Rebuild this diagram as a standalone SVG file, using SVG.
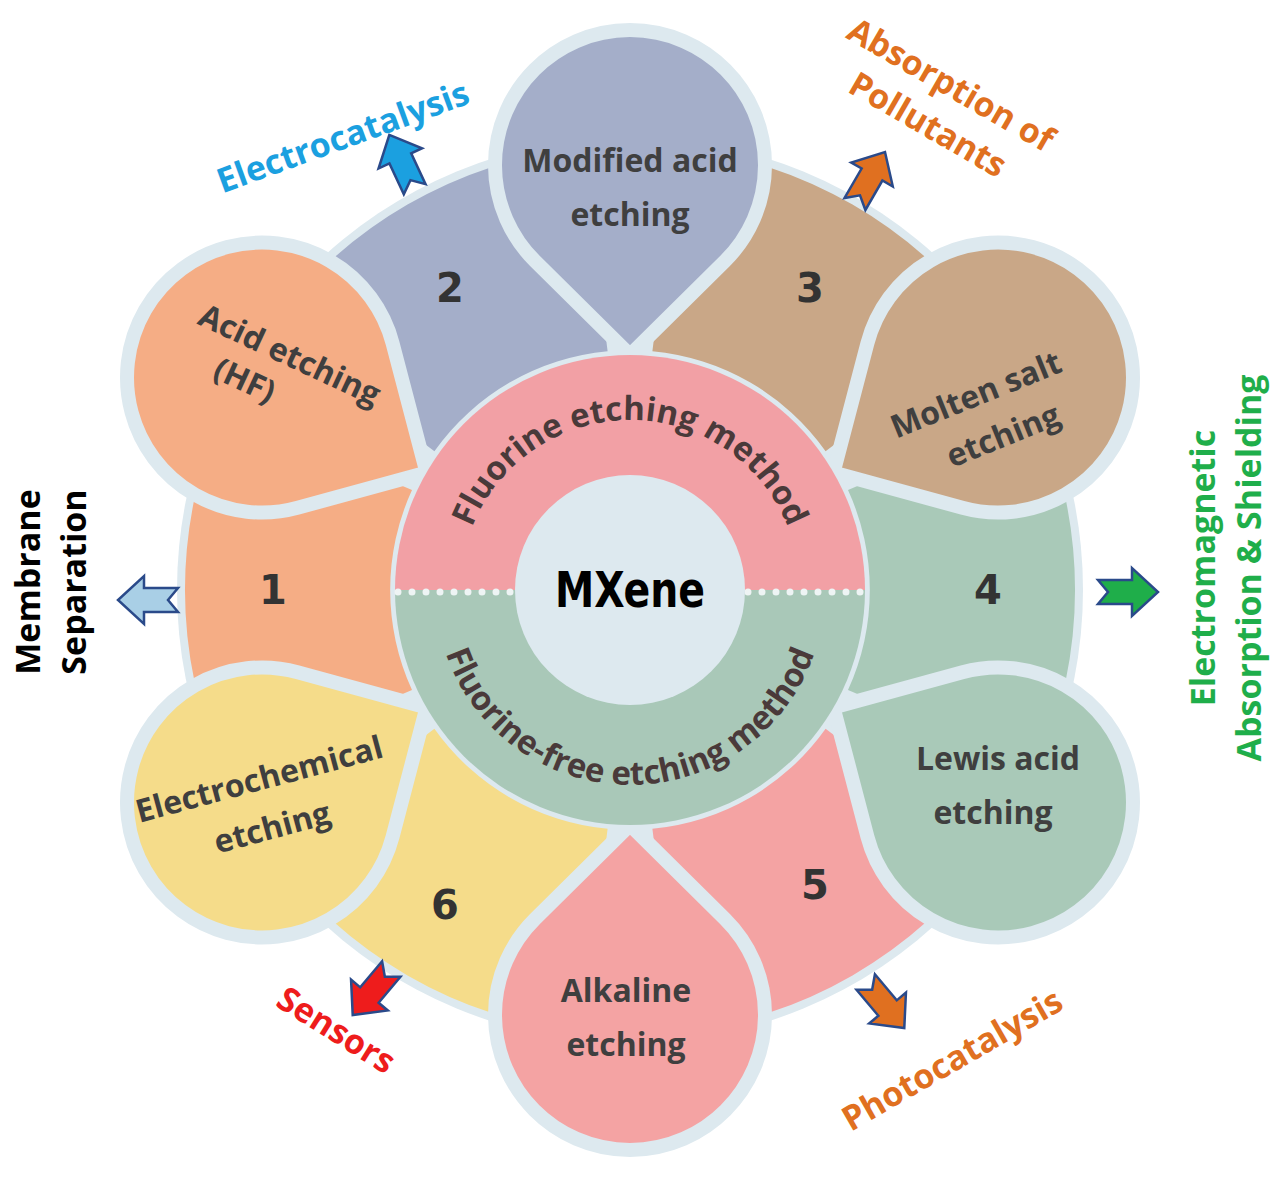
<svg xmlns="http://www.w3.org/2000/svg" xmlns:xlink="http://www.w3.org/1999/xlink" width="1280" height="1183" viewBox="0 0 1280 1183">
<style>
.pet{stroke:#dde9ef;stroke-width:14;stroke-linejoin:round}
.lab{font-family:"Open Sans","DejaVu Sans",sans-serif;font-weight:bold;font-size:32px;fill:#3f3f3f;text-anchor:middle}
.num{font-family:"DejaVu Sans",sans-serif;font-weight:bold;font-size:40px;fill:#333;text-anchor:middle}
.app{font-family:"Open Sans","DejaVu Sans",sans-serif;font-weight:bold;font-size:34px;text-anchor:middle}
.ring{font-family:"Open Sans","DejaVu Sans",sans-serif;font-weight:bold;font-size:33px;fill:#4a3a3a}
</style>
<defs>
<path id="petal" d="M0,-235 L95,-329 A135,135 0 1 0 -95,-329 Z"/>
<path id="seg" d="M-180,-407 A445,445 0 0 1 180,-407 L100,-218 A240,240 0 0 0 -100,-218 Z"/>
<path id="arr" d="M-30,-12 L4,-12 L4,-24 L30,0 L4,24 L4,12 L-30,12 L-20,0 Z" stroke="#2a4a8a" stroke-width="2.5" stroke-linejoin="miter"/>
<path id="topArc" d="M460,590 A170,170 0 0 1 800,590"/>
<path id="botArc" d="M435,590 A195,195 0 0 0 825,590"/>
</defs>
<rect width="1280" height="1183" fill="#fff"/>
<circle cx="630" cy="590" r="453" fill="#dde9ef"/>
<g id="segments" transform="translate(630,590)">
<use href="#seg" transform="rotate(-90)" fill="#f5ad85"/>
<use href="#seg" transform="rotate(-30)" fill="#a4aec9"/>
<use href="#seg" transform="rotate(30)" fill="#c9a787"/>
<use href="#seg" transform="rotate(90)" fill="#a9c9b8"/>
<use href="#seg" transform="rotate(150)" fill="#f4a3a3"/>
<use href="#seg" transform="rotate(210)" fill="#f5dc8a"/>
</g>
<g id="numbers">
<text class="num" x="273" y="604">1</text>
<text class="num" x="450" y="302">2</text>
<text class="num" x="810" y="302">3</text>
<text class="num" x="988" y="604">4</text>
<text class="num" x="815" y="899">5</text>
<text class="num" x="445" y="919">6</text>
</g>
<g id="p-acid"><use href="#petal" class="pet" fill="#f5ad85" transform="translate(630,590) rotate(-60)"/>
<text class="lab" transform="translate(285,365) rotate(25)"><tspan x="0" y="0">Acid etching</tspan><tspan x="-30" y="42">(HF)</tspan></text></g>
<g id="p-mod"><use href="#petal" class="pet" fill="#a4aec9" transform="translate(630,590)"/>
<text class="lab"><tspan x="630" y="172">Modified acid</tspan><tspan x="630" y="226">etching</tspan></text></g>
<g id="p-molten"><use href="#petal" class="pet" fill="#c9a787" transform="translate(630,590) rotate(60)"/>
<text class="lab" transform="translate(980,405) rotate(-22)"><tspan x="0" y="0">Molten salt</tspan><tspan x="10" y="48">etching</tspan></text></g>
<g id="p-lewis"><use href="#petal" class="pet" fill="#a9c9b8" transform="translate(630,590) rotate(120)"/>
<text class="lab"><tspan x="998" y="770">Lewis acid</tspan><tspan x="993" y="824">etching</tspan></text></g>
<g id="p-alk"><use href="#petal" class="pet" fill="#f4a3a3" transform="translate(630,590) rotate(180)"/>
<text class="lab"><tspan x="626" y="1002">Alkaline</tspan><tspan x="626" y="1056">etching</tspan></text></g>
<g id="p-electro"><use href="#petal" class="pet" fill="#f5dc8a" transform="translate(630,590) rotate(240)"/>
<text class="lab" transform="translate(262,790) rotate(-15)"><tspan x="0" y="0">Electrochemical</tspan><tspan x="0" y="50">etching</tspan></text></g>
<g id="ring">
<path d="M395,590 A235,235 0 0 1 865,590 Z" fill="#f2a0a5"/>
<path d="M395,590 A235,235 0 0 0 865,590 Z" fill="#a9c8b8"/>
<line x1="398" y1="592" x2="862" y2="592" stroke="#eef4f4" stroke-width="7" stroke-linecap="round" stroke-dasharray="0 14"/>
<text class="ring"><textPath href="#topArc" startOffset="50%" text-anchor="middle">Fluorine etching method</textPath></text>
<text class="ring"><textPath href="#botArc" startOffset="50%" text-anchor="middle">Fluorine-free etching method</textPath></text>
<circle cx="630" cy="590" r="115" fill="#dde9ef"/>
<text x="630" y="607" text-anchor="middle" font-family="DejaVu Sans Condensed,DejaVu Sans,sans-serif" font-weight="bold" font-size="50" textLength="150" lengthAdjust="spacingAndGlyphs" fill="#000">MXene</text>
</g>
<g id="connectors">
<use href="#arr" fill="#1ba0e0" transform="translate(402,162) rotate(-115)"/>
<use href="#arr" fill="#e07020" transform="translate(870,178) rotate(-60)"/>
<use href="#arr" fill="#a9cfe6" transform="translate(148,600) rotate(180)"/>
<use href="#arr" fill="#1fae4a" transform="translate(1128,592)"/>
<use href="#arr" fill="#ee1c1c" transform="translate(372,992) rotate(130)"/>
<use href="#arr" fill="#e07020" transform="translate(885,1005) rotate(50)"/>
</g>
<g id="apps">
<text class="app" fill="#1ba0e0" transform="translate(347,148) rotate(-20)">Electrocatalysis</text>
<text class="app" fill="#e07020" transform="translate(945,95) rotate(30)"><tspan x="0" y="0">Absorption of</tspan><tspan x="0" y="46">Pollutants</tspan></text>
<text class="app" fill="#000" transform="translate(40,582) rotate(-90)"><tspan x="0" y="0">Membrane</tspan><tspan x="0" y="46">Separation</tspan></text>
<text class="app" fill="#1fae4a" transform="translate(1215,568) rotate(-90)"><tspan x="0" y="0">Electromagnetic</tspan><tspan x="0" y="46">Absorption &amp; Shielding</tspan></text>
<text class="app" fill="#ee1c1c" transform="translate(330,1040) rotate(32)">Sensors</text>
<text class="app" fill="#e07020" transform="translate(958,1070) rotate(-30)">Photocatalysis</text>
</g>
</svg>
